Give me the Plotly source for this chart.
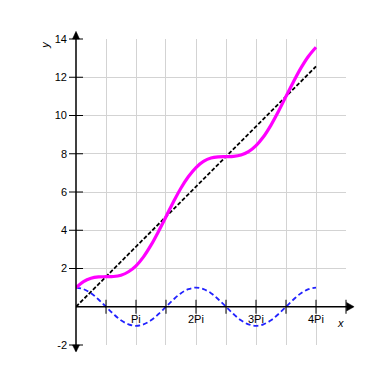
import plotly.graph_objects as go

# x positions (multiples of pi/8)
X_VALS = [0.0, 0.393, 0.785, 1.178, 1.571, 1.963, 2.356, 2.749, 3.142, 3.534, 3.927,
          4.320, 4.712, 5.105, 5.498, 5.890, 6.283, 6.676, 7.069, 7.461, 7.854,
          8.247, 8.639, 9.032, 9.425, 9.817, 10.210, 10.603, 10.996, 11.388,
          11.781, 12.174, 12.566]
# magenta curve
MAGENTA_Y = [1.00, 1.32, 1.49, 1.56, 1.57, 1.58, 1.65, 1.83, 2.14, 2.61, 3.22,
             3.94, 4.71, 5.49, 6.21, 6.81, 7.28, 7.60, 7.78, 7.84, 7.85,
             7.86, 7.93, 8.11, 8.43, 8.89, 9.50, 10.22, 11.00, 11.77,
             12.49, 13.10, 13.57]
# blue dashed curve
BLUE_Y = [1.00, 0.92, 0.71, 0.38, 0.00, -0.38, -0.71, -0.92, -1.00, -0.92, -0.71,
          -0.38, 0.00, 0.38, 0.71, 0.92, 1.00, 0.92, 0.71, 0.38, 0.00,
          -0.38, -0.71, -0.92, -1.00, -0.92, -0.71, -0.38, 0.00, 0.38,
          0.71, 0.92, 1.00]
# black dashed line
LINE_X = [0.0, 12.566]
LINE_Y = [0.0, 12.566]

X_GRID = [0.0, 1.571, 3.142, 4.712, 6.283, 7.854, 9.425, 10.996, 12.566, 14.137]
X_LABEL_POS = [3.142, 6.283, 9.425, 12.566]
X_LABELS = ["Pi", "2Pi", "3Pi", "4Pi"]
Y_TICKS = [-2, 2, 4, 6, 8, 10, 12, 14]
Y_TICK_TEXT = ["-2", "2", "4", "6", "8", "10", "12", "14"]

FONT = "Liberation Sans, Arial, sans-serif"

fig = go.Figure()

fig.add_trace(go.Scatter(x=LINE_X, y=LINE_Y, mode="lines",
                         line=dict(color="black", width=1.8, dash="4px,2px")))
fig.add_trace(go.Scatter(x=X_VALS, y=BLUE_Y, mode="lines",
                         line=dict(color="#2222ff", width=1.8, dash="5px,3px", shape="spline")))
fig.add_trace(go.Scatter(x=X_VALS, y=MAGENTA_Y, mode="lines",
                         line=dict(color="#ff00ff", width=3.2, shape="spline")))

# tick marks crossing the axes
fig.add_trace(go.Scatter(x=X_GRID[1:], y=[0] * (len(X_GRID) - 1), mode="markers",
                         marker=dict(symbol="line-ns", size=10, line=dict(color="black", width=1)),
                         cliponaxis=False))
fig.add_trace(go.Scatter(x=[0] * len(Y_TICKS), y=Y_TICKS, mode="markers",
                         marker=dict(symbol="line-ew", size=10, line=dict(color="black", width=1)),
                         cliponaxis=False))

# axis lines
fig.add_shape(type="line", xref="paper", yref="paper", x0=0, x1=1.025, y0=0.125, y1=0.125,
              line=dict(color="black", width=1.5))
fig.add_shape(type="line", xref="paper", yref="paper", x0=0, x1=0, y0=-0.02, y1=1.02,
              line=dict(color="black", width=1.5))
# arrow heads
fig.add_shape(type="path", xref="paper", yref="paper",
              path="M 1.002 0.139 L 1.030 0.125 L 1.002 0.111 Z",
              fillcolor="black", line=dict(color="black", width=0.5))
fig.add_shape(type="path", xref="paper", yref="paper",
              path="M -0.013 1.0 L 0 1.025 L 0.013 1.0 Z",
              fillcolor="black", line=dict(color="black", width=0.5))
fig.add_shape(type="path", xref="paper", yref="paper",
              path="M -0.013 0.0 L 0 -0.023 L 0.013 0.0 Z",
              fillcolor="black", line=dict(color="black", width=0.5))

for xp, t in zip(X_LABEL_POS, X_LABELS):
    fig.add_annotation(x=xp, y=0, text=t, showarrow=False, yanchor="top", yshift=-4,
                       font=dict(family=FONT, size=11, color="black"))

fig.add_annotation(xref="paper", yref="paper", x=1.0, y=0.045, text="<i>x</i>",
                   showarrow=False, font=dict(family=FONT, size=11, color="black"))
fig.add_annotation(xref="paper", yref="paper", x=-0.145, y=1.0, text="<i>y</i>",
                   textangle=-90,
                   showarrow=False, font=dict(family=FONT, size=11, color="black"))

fig.update_layout(
    width=384, height=384,
    margin=dict(l=76, r=38, t=39, b=39),
    paper_bgcolor="white", plot_bgcolor="white",
    showlegend=False,
    xaxis=dict(range=[0, 14.137], tickvals=X_GRID, showticklabels=False,
               showgrid=True, gridcolor="#d3d3d3", gridwidth=1,
               zeroline=False, showline=False, ticks=""),
    yaxis=dict(range=[-2, 14], tickvals=Y_TICKS, ticktext=Y_TICK_TEXT,
               showgrid=True, gridcolor="#d3d3d3", gridwidth=1,
               zeroline=False, showline=False, ticks="", ticklabelstandoff=8,
               tickfont=dict(family=FONT, size=11, color="black")),
)

fig.write_html("out.html")
